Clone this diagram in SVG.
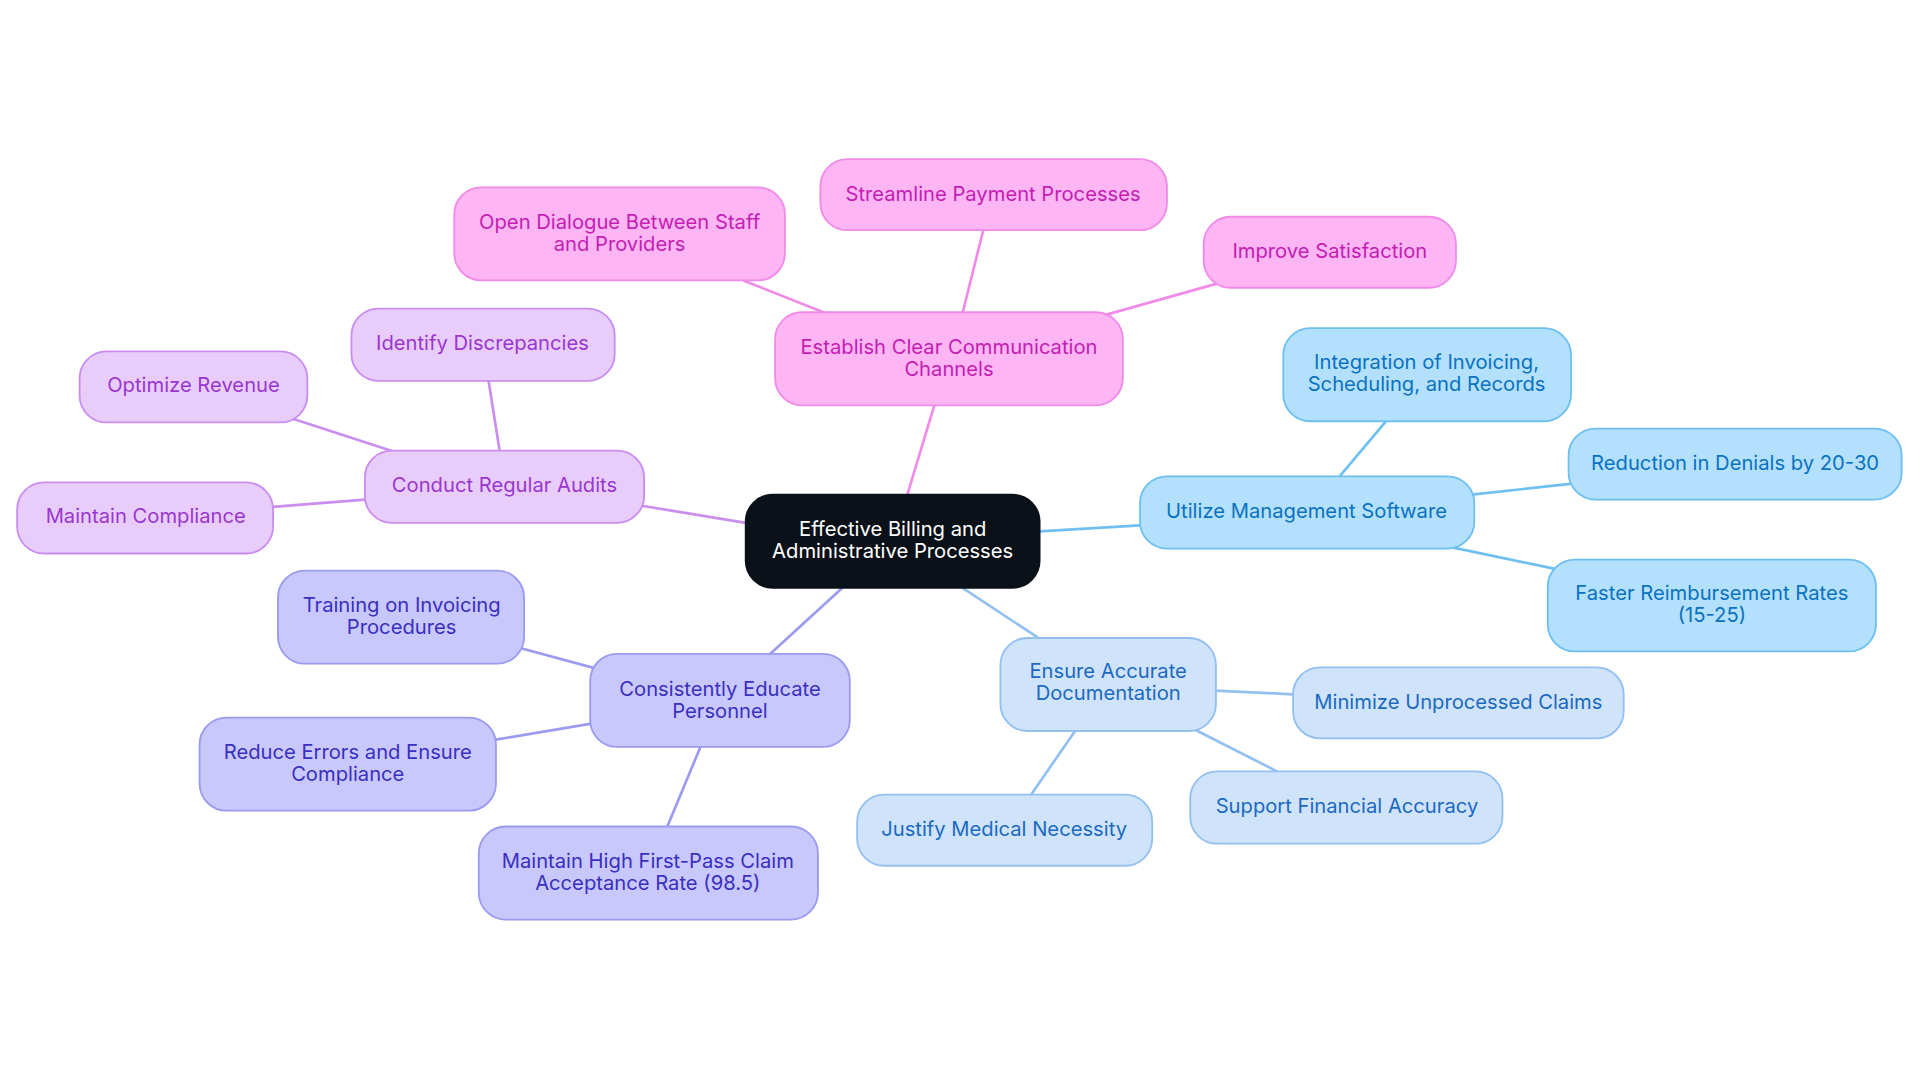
<svg xmlns="http://www.w3.org/2000/svg" width="1920" height="1083" viewBox="0 0 1920 1083">
<style>
text{font-family:Inter,"Open Sans","Liberation Sans",sans-serif;font-size:16.5px;text-anchor:middle}
.c rect{fill:#0b1118;stroke:#0b1118;stroke-width:1.5}.c text{fill:#fff}
.p rect{fill:#fdb5f4;stroke:#f08be8;stroke-width:1.5}.p text{fill:#c41db3}
.v rect{fill:#e8cdfb;stroke:#c98ef0;stroke-width:1.5}.v text{fill:#9a36d0}
.i rect{fill:#c8c8fc;stroke:#9b9bf0;stroke-width:1.5}.i text{fill:#3a2fc0}
.l rect{fill:#cfe3fb;stroke:#94c0f0;stroke-width:1.5}.l text{fill:#1c6ac0}
.b rect{fill:#b3e0fd;stroke:#6ec0f0;stroke-width:1.5}.b text{fill:#0a72c0}
line{stroke-width:2.2}
</style>
<g transform="scale(1.2245)">
<g id="connectors">
<g stroke="#f08be8"><line x1="741" y1="404" x2="763" y2="331"/><line x1="675" y1="256" x2="607" y2="229"/><line x1="786" y1="256" x2="803" y2="188"/><line x1="900" y1="258" x2="996" y2="231"/></g>
<g stroke="#c98ef0"><line x1="609" y1="427" x2="524" y2="413"/><line x1="408" y1="368" x2="399" y2="311"/><line x1="322" y1="369" x2="236" y2="341"/><line x1="298" y1="408" x2="223" y2="414"/></g>
<g stroke="#9b9bf0"><line x1="688" y1="480" x2="628" y2="535"/><line x1="487" y1="546" x2="424" y2="529"/><line x1="483" y1="591" x2="405" y2="604"/><line x1="572" y1="610" x2="545" y2="675"/></g>
<g stroke="#94c0f0"><line x1="786" y1="480" x2="848" y2="521"/><line x1="993" y1="564" x2="1056" y2="567"/><line x1="976" y1="596" x2="1043" y2="630"/><line x1="878" y1="597" x2="842" y2="649"/></g>
<g stroke="#6ec0f0"><line x1="849" y1="434" x2="931" y2="429"/><line x1="1094" y1="389" x2="1132" y2="344"/><line x1="1202" y1="404" x2="1284" y2="395"/><line x1="1186" y1="447" x2="1272" y2="465"/></g>
</g>
<g id="center" class="c"><rect x="609" y="404" width="240" height="76" rx="22"/><text x="729" y="438">Effective Billing and</text><text x="729" y="456">Administrative Processes</text></g>
<g id="establish" class="p"><rect x="633" y="255" width="284" height="76" rx="22"/><text x="775" y="289">Establish Clear Communication</text><text x="775" y="307">Channels</text></g>
<g id="dialogue" class="p"><rect x="371" y="153" width="270" height="76" rx="22"/><text x="506" y="187">Open Dialogue Between Staff</text><text x="506" y="205">and Providers</text></g>
<g id="streamline" class="p"><rect x="670" y="130" width="283" height="58" rx="22"/><text x="811" y="164">Streamline Payment Processes</text></g>
<g id="improve" class="p"><rect x="983" y="177" width="206" height="58" rx="22"/><text x="1086" y="211">Improve Satisfaction</text></g>
<g id="audits" class="v"><rect x="298" y="368" width="228" height="59" rx="22"/><text x="412" y="402">Conduct Regular Audits</text></g>
<g id="identify" class="v"><rect x="287" y="252" width="215" height="59" rx="22"/><text x="394" y="286">Identify Discrepancies</text></g>
<g id="optimize" class="v"><rect x="65" y="287" width="186" height="58" rx="22"/><text x="158" y="320">Optimize Revenue</text></g>
<g id="compliance" class="v"><rect x="14" y="394" width="209" height="58" rx="22"/><text x="119" y="427">Maintain Compliance</text></g>
<g id="educate" class="i"><rect x="482" y="534" width="212" height="76" rx="22"/><text x="588" y="568">Consistently Educate</text><text x="588" y="586">Personnel</text></g>
<g id="training" class="i"><rect x="227" y="466" width="201" height="76" rx="22"/><text x="328" y="500">Training on Invoicing</text><text x="328" y="518">Procedures</text></g>
<g id="reduce" class="i"><rect x="163" y="586" width="242" height="76" rx="22"/><text x="284" y="620">Reduce Errors and Ensure</text><text x="284" y="638">Compliance</text></g>
<g id="firstpass" class="i"><rect x="391" y="675" width="277" height="76" rx="22"/><text x="529" y="709">Maintain High First-Pass Claim</text><text x="529" y="727">Acceptance Rate (98.5)</text></g>
<g id="documentation" class="l"><rect x="817" y="521" width="176" height="76" rx="22"/><text x="905" y="554">Ensure Accurate</text><text x="905" y="572">Documentation</text></g>
<g id="minimize" class="l"><rect x="1056" y="545" width="270" height="58" rx="22"/><text x="1191" y="579">Minimize Unprocessed Claims</text></g>
<g id="financial" class="l"><rect x="972" y="630" width="255" height="59" rx="22"/><text x="1100" y="664">Support Financial Accuracy</text></g>
<g id="justify" class="l"><rect x="700" y="649" width="241" height="58" rx="22"/><text x="820" y="683">Justify Medical Necessity</text></g>
<g id="software" class="b"><rect x="931" y="389" width="273" height="59" rx="22"/><text x="1067" y="423">Utilize Management Software</text></g>
<g id="integration" class="b"><rect x="1048" y="268" width="235" height="76" rx="22"/><text x="1165" y="301">Integration of Invoicing,</text><text x="1165" y="319">Scheduling, and Records</text></g>
<g id="denials" class="b"><rect x="1281" y="350" width="272" height="58" rx="22"/><text x="1417" y="384">Reduction in Denials by 20-30</text></g>
<g id="faster" class="b"><rect x="1264" y="457" width="268" height="75" rx="22"/><text x="1398" y="490">Faster Reimbursement Rates</text><text x="1398" y="508">(15-25)</text></g>
</g>
</svg>
